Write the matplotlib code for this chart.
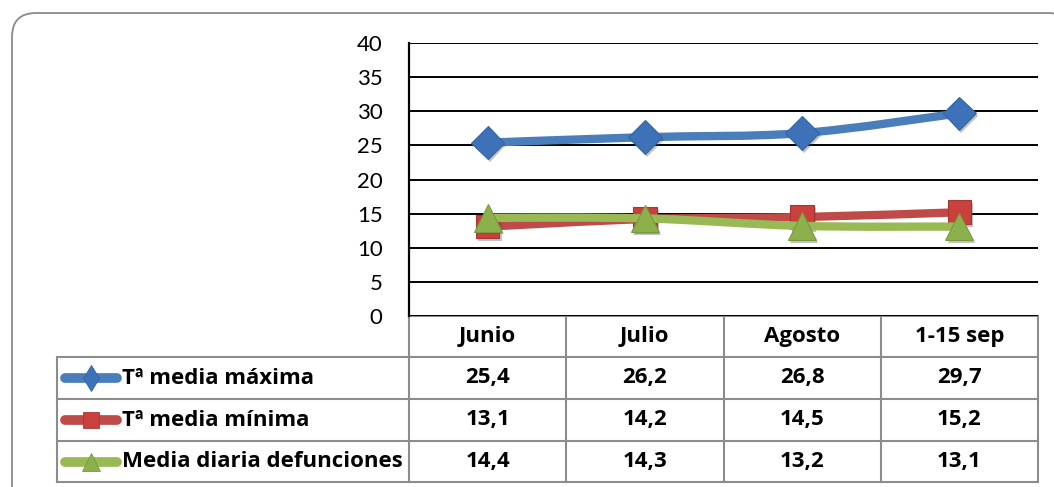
import matplotlib
matplotlib.use("Agg")
import matplotlib.pyplot as plt
from matplotlib.path import Path
from matplotlib.patches import PathPatch, FancyBboxPatch
from matplotlib.lines import Line2D
import matplotlib.patheffects as pe

plt.rcParams['font.family'] = ['Lato', 'DejaVu Sans']

# Data
categories = ["Junio", "Julio", "Agosto", "1-15 sep"]
series_names = ["Tª media máxima", "Tª media mínima", "Media diaria defunciones"]
tmax = [25.4, 26.2, 26.8, 29.7]
tmin = [13.1, 14.2, 14.5, 15.2]
deaths = [14.4, 14.3, 13.2, 13.1]
y_ticks = [0, 5, 10, 15, 20, 25, 30, 35, 40]

series = [tmax, tmin, deaths]
line_colors = ["#4A7EBB", "#BE4B48", "#98B954"]
face_colors = ["#3D72B8", "#C9403C", "#8CB04B"]
edge_colors = ["#3464A3", "#A83733", "#789C3C"]
markers = ["D", "s", "^"]
key_markers = ["d", "s", "^"]
marker_sizes = [17, 17, 20]
key_sizes = [13, 12, 13]

W, H = 1054, 487
fig = plt.figure(figsize=(W / 100, H / 100), dpi=100)

# Overlay in pixel coordinates for the frame and the data table
ov = fig.add_axes([0, 0, 1, 1], zorder=0)
ov.set_xlim(0, W)
ov.set_ylim(H, 0)
ov.axis("off")

frame = FancyBboxPatch((12, 13), 1060, 500, boxstyle="round,pad=0,rounding_size=24",
                       fc="white", ec="#8A8A8A", lw=1.3)
ov.add_patch(frame)

# Plot area
x0, x1, y_top, y_bot = 409, 1038, 43, 316
ax = fig.add_axes([x0 / W, 1 - y_bot / H, (x1 - x0) / W, (y_bot - y_top) / H], zorder=2)
ax.patch.set_alpha(0)
ax.set_xlim(-0.5, len(categories) - 0.5)
ax.set_ylim(0, 40)
ax.set_yticks(y_ticks)
ax.set_yticklabels([str(v) for v in y_ticks], fontsize=16)
ax.tick_params(axis="y", length=0, pad=19)
ax.set_xticks([])
for s in ["top", "right", "bottom"]:
    ax.spines[s].set_visible(False)
ax.spines["left"].set_linewidth(1.6)
ax.spines["left"].set_color("black")
for v in y_ticks:
    ax.axhline(v, color="black", lw=1.4, zorder=1)


def smooth_path(xs, ys):
    """Cubic Bezier path through the points (Excel-style smoothed line)."""
    pts = list(zip(xs, ys))
    n = len(pts)
    verts = [pts[0]]
    codes = [Path.MOVETO]
    for i in range(n - 1):
        p0 = pts[i - 1] if i > 0 else pts[i]
        p1 = pts[i]
        p2 = pts[i + 1]
        p3 = pts[i + 2] if i + 2 < n else pts[i + 1]
        c1 = (p1[0] + (p2[0] - p0[0]) / 6, p1[1] + (p2[1] - p0[1]) / 6)
        c2 = (p2[0] - (p3[0] - p1[0]) / 6, p2[1] - (p3[1] - p1[1]) / 6)
        verts += [c1, c2, p2]
        codes += [Path.CURVE4] * 3
    return Path(verts, codes)


xs = list(range(len(categories)))
shadow = [pe.SimplePatchShadow(offset=(1.5, -2), alpha=0.35, shadow_rgbFace="#555555"), pe.Normal()]
for k, vals in enumerate(series):
    patch = PathPatch(smooth_path(xs, vals), fc="none", ec=line_colors[k], lw=6,
                      capstyle="round", joinstyle="round", zorder=3 + k * 2)
    ax.add_patch(patch)
    ax.plot(xs, vals, ls="none", marker=markers[k], ms=marker_sizes[k],
            mfc=face_colors[k], mec=edge_colors[k], mew=0.8, zorder=4 + k * 2,
            path_effects=shadow)

# Data table
col_edges = [x0 + i * (x1 - x0) / len(categories) for i in range(len(categories) + 1)]
row_edges = [316, 357, 399, 441, 482]
leg_left = 57
grid_kw = dict(color="#8C8C8C", lw=1.5, zorder=1, solid_capstyle="projecting")
# horizontal lines
ov.plot([col_edges[0], col_edges[-1]], [row_edges[0], row_edges[0]], **grid_kw)
for y in row_edges[1:]:
    ov.plot([leg_left, col_edges[-1]], [y, y], **grid_kw)
# vertical lines
for x in col_edges:
    ov.plot([x, x], [row_edges[0], row_edges[-1]], **grid_kw)
ov.plot([leg_left, leg_left], [row_edges[1], row_edges[-1]], **grid_kw)

table_font = ["Open Sans", "DejaVu Sans"]
txt_kw = dict(fontsize=16, fontweight="bold", family=table_font, color="black",
              ha="center", va="center", zorder=5)
for j, cat in enumerate(categories):
    cx = (col_edges[j] + col_edges[j + 1]) / 2
    ov.text(cx, (row_edges[0] + row_edges[1]) / 2, cat, **txt_kw)
    for k, vals in enumerate(series):
        cy = (row_edges[k + 1] + row_edges[k + 2]) / 2
        ov.text(cx, cy, f"{vals[j]:.1f}".replace(".", ","), **txt_kw)

# Legend keys inside the table
for k, name in enumerate(series_names):
    cy = (row_edges[k + 1] + row_edges[k + 2]) / 2
    ov.add_line(Line2D([65, 117], [cy, cy], color=line_colors[k], lw=7,
                       solid_capstyle="round", zorder=4))
    ov.add_line(Line2D([91], [cy], ls="none", marker=key_markers[k], ms=key_sizes[k],
                       mfc=face_colors[k], mec=edge_colors[k], mew=0.6, zorder=5))
    ov.text(122, cy, name, fontsize=16, fontweight="bold", family=table_font,
            ha="left", va="center", zorder=5)

fig.savefig("out.png", dpi=100)
